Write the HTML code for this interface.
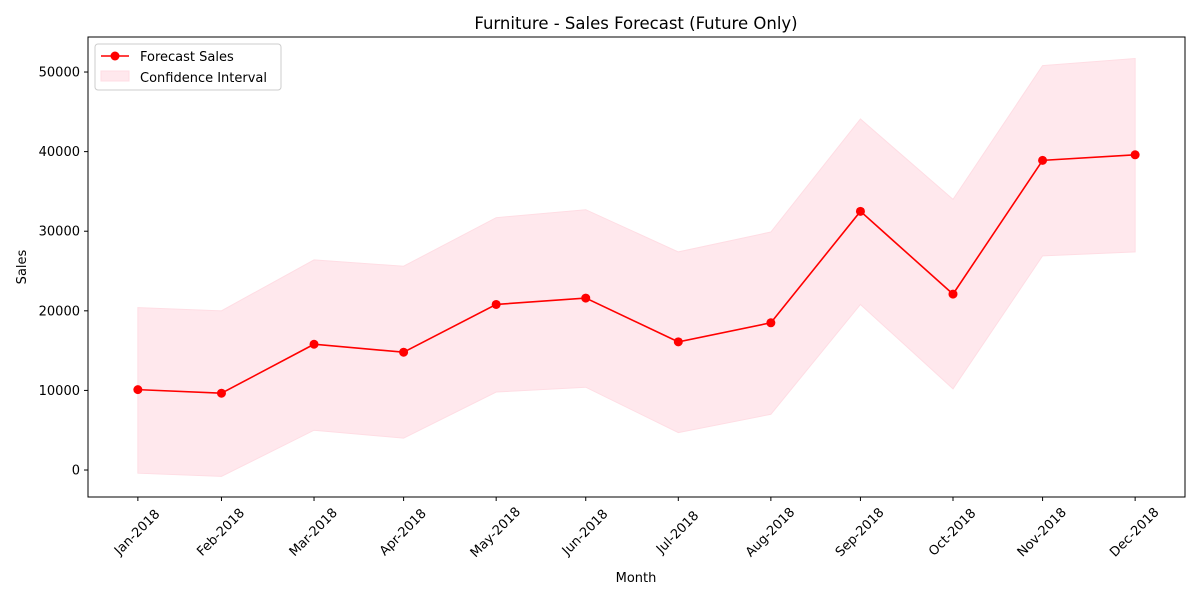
<!DOCTYPE html>
<html><head><meta charset="utf-8"><style>body{margin:0;background:#fff}svg{font-family:"DejaVu Sans","Liberation Sans",sans-serif}</style></head>
<body>
<svg id="chart" width="1200" height="600" viewBox="0 0 1200 600">
<rect width="1200" height="600" fill="#fff"/>
<text x="636" y="29" text-anchor="middle" font-size="16.5">Furniture - Sales Forecast (Future Only)</text>
<g id="plot"></g>
<text x="636" y="582" text-anchor="middle" font-size="13">Month</text>
<text x="26" y="267" text-anchor="middle" font-size="13" transform="rotate(-90 26 267)">Sales</text>
<g>
<rect x="95" y="44" width="186" height="46" fill="#fff" stroke="#ccc" rx="3"/>
<line x1="101" y1="56" x2="129" y2="56" stroke="red" stroke-width="1.5"/><circle cx="115" cy="56" r="4.5" fill="red"/>
<text x="140" y="61" font-size="13">Forecast Sales</text>
<rect x="101" y="71" width="28" height="10" fill="#ffe8ed" stroke="#ffdde4"/>
<text x="140" y="82" font-size="13">Confidence Interval</text>
</g>
</svg>
<script>
const months=["Jan-2018","Feb-2018","Mar-2018","Apr-2018","May-2018","Jun-2018","Jul-2018","Aug-2018","Sep-2018","Oct-2018","Nov-2018","Dec-2018"];
const dayOffsets=[0,28,59,89,120,150,181,212,242,273,303,334];
const forecast=[10100,9650,15800,14800,20800,21600,16100,18500,32500,22100,38900,39600];
const lower=[-400,-800,5000,4000,9800,10400,4700,7000,20800,10200,26900,27400];
const upper=[20400,20000,26400,25600,31700,32700,27400,29900,44100,34000,50800,51700];
const yTicks=[0,10000,20000,30000,40000,50000];
const L=88,R=1185,T=37,B=497;
const xmin=-16.7,xmax=350.7,ymin=-3390,ymax=54400;
const xs=d=>L+(d-xmin)/(xmax-xmin)*(R-L);
const ys=v=>B-(v-ymin)/(ymax-ymin)*(B-T);
const ns="http://www.w3.org/2000/svg",g=document.getElementById('plot');
function mk(t,a){const e=document.createElementNS(ns,t);for(const k in a)e.setAttribute(k,a[k]);g.appendChild(e);return e;}
let pts=dayOffsets.map((d,i)=>xs(d)+","+ys(upper[i])).concat(dayOffsets.map((d,i)=>xs(d)+","+ys(lower[i])).reverse());
const band=mk('polygon',{points:pts.join(' '),fill:'#ffe8ed',stroke:'#ffdde4'});


const line=mk('polyline',{points:dayOffsets.map((d,i)=>xs(d)+","+ys(forecast[i])).join(' '),fill:'none',stroke:'red','stroke-width':1.6});


dayOffsets.forEach((d,i)=>{const c=mk('circle',{cx:xs(d),cy:ys(forecast[i]),r:4.5,fill:'red'});


mk('line',{x1:xs(d),x2:xs(d),y1:B,y2:B+4,stroke:'#000'});
const x=xs(d)-1,cy=B+35;const t=mk('text',{x:x,y:cy+4.5,'font-size':13,'text-anchor':'middle',transform:`rotate(-45 ${x} ${cy})`});t.textContent=months[i];

});
yTicks.forEach(v=>{mk('line',{x1:L-4,x2:L,y1:ys(v),y2:ys(v),stroke:'#000'});
const t=mk('text',{x:L-8,y:ys(v)+4.5,'font-size':13,'text-anchor':'end'});t.textContent=v;

});
const ax=mk('rect',{x:L,y:T,width:R-L,height:B-T,fill:'none',stroke:'#000','stroke-width':1});


</script>
</body></html>
